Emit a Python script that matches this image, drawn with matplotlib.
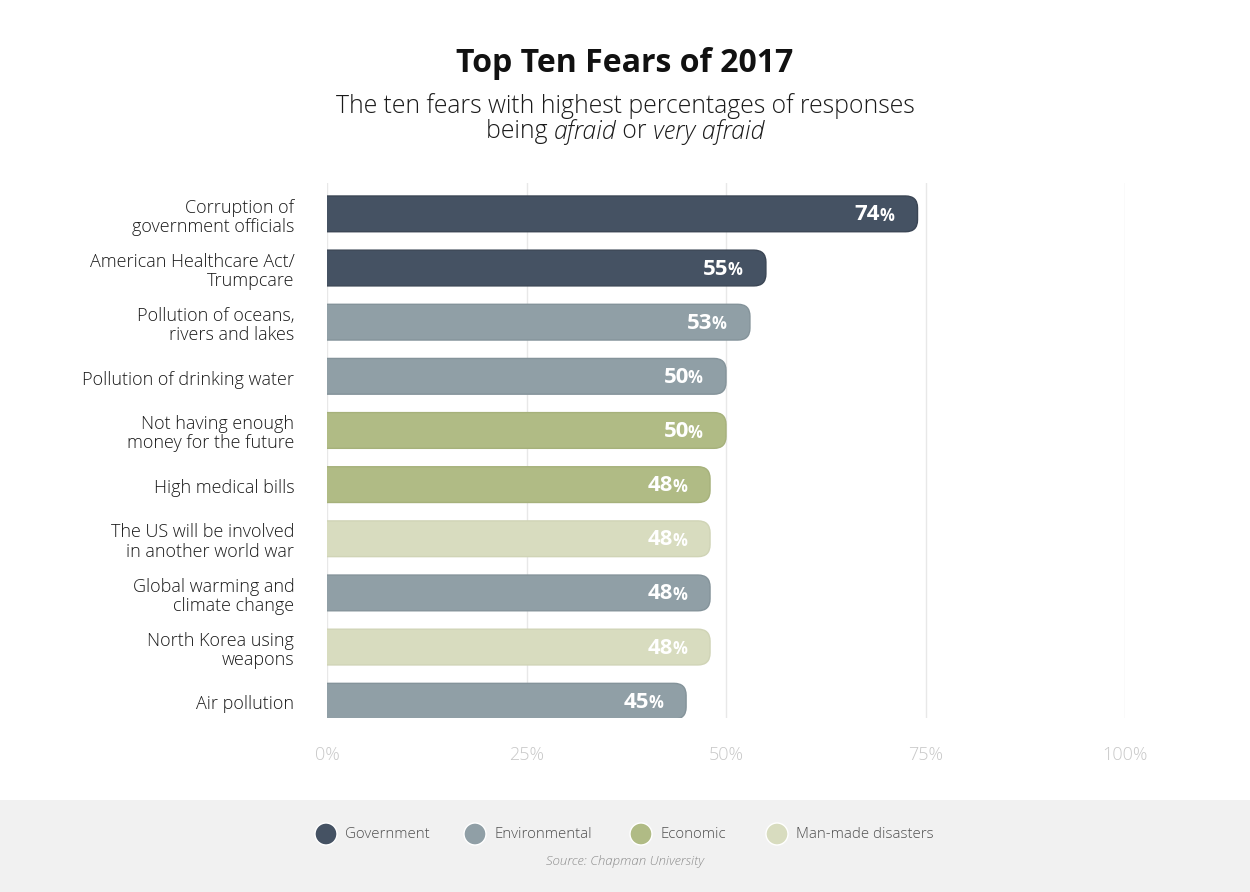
import matplotlib.pyplot as plt
from matplotlib.patches import FancyBboxPatch, Rectangle, Circle

# data
fears = [
    "Corruption of\ngovernment officials",
    "American Healthcare Act/\nTrumpcare",
    "Pollution of oceans,\nrivers and lakes",
    "Pollution of drinking water",
    "Not having enough\nmoney for the future",
    "High medical bills",
    "The US will be involved\nin another world war",
    "Global warming and\nclimate change",
    "North Korea using\nweapons",
    "Air pollution",
]
percent = [74, 55, 53, 50, 50, 48, 48, 48, 48, 45]
group = ["Government", "Government", "Environmental", "Environmental", "Economic",
         "Economic", "Man-made disasters", "Environmental", "Man-made disasters",
         "Environmental"]
groups = ["Government", "Environmental", "Economic", "Man-made disasters"]
colors = {"Government": "#455263", "Environmental": "#909fa6",
          "Economic": "#b0bb85", "Man-made disasters": "#d8dcbf"}
edges = {"Government": "#3a4554", "Environmental": "#84939a",
         "Economic": "#a6b17b", "Man-made disasters": "#d0d4b6"}
ticks = [0, 25, 50, 75, 100]

plt.rcParams['font.family'] = ['Open Sans', 'DejaVu Sans']

fig = plt.figure(figsize=(12.5, 8.92), dpi=100)
W, H = 1250, 892

ax = fig.add_axes([327 / W, 1 - 718 / H, 798 / W, 535 / H])
ax.set_xlim(0, 100)
ax.set_ylim(9.31, -0.57)
for s in ax.spines.values():
    s.set_visible(False)
ax.set_yticks([])
ax.set_xticks(ticks)
ax.set_xticklabels([f"{t}%" for t in ticks], color="#c8c8c8", fontsize=13,
                   fontweight="light")
ax.tick_params(axis="x", length=0, pad=20)
for t in ticks:
    ax.axvline(t, color="#e8e8e8", lw=1, zorder=0)

bar_h = 0.66
rx = 1.5
ry = 0.22
for i, (v, g) in enumerate(zip(percent, group)):
    p = FancyBboxPatch((-10, i - bar_h / 2), v + 10, bar_h,
                       boxstyle=f"round,pad=0,rounding_size={rx}",
                       mutation_aspect=ry / rx,
                       fc=colors[g], ec=edges[g], lw=1, zorder=2)
    ax.add_patch(p)
    ax.text(-4.1, i + 0.06, fears[i], ha="right", va="center",
            fontsize=13, fontweight="light", color="#1a1a1a", linespacing=1.08)

fig.canvas.draw()
r = fig.canvas.get_renderer()
inv = ax.transData.inverted()
for i, v in enumerate(percent):
    pc = ax.text(v - 2.9, i + 0.04, "%", ha="right", va="center", fontsize=12,
                 fontweight="bold", color="white", zorder=3)
    bb = pc.get_window_extent(r)
    x0 = inv.transform((bb.x0, bb.y0))[0]
    ax.text(x0 + 0.1, i + 0.02, str(v), ha="right", va="center", fontsize=16,
            fontweight="bold", color="white", zorder=3)

# titles
fig.text(0.5, 1 - 64 / H, "Top Ten Fears of 2017", ha="center", va="center",
         fontsize=23, fontweight="bold", color="#111111")
fig.text(0.5, 1 - 106 / H, "The ten fears with highest percentages of responses",
         ha="center", va="center", fontsize=17.8, fontweight="light", color="#1a1a1a")

parts = [("being ", "normal"), ("afraid", "italic"), (" or ", "normal"),
         ("very afraid", "italic")]
objs = []
for s, st in parts:
    objs.append(fig.text(0, 1 - 132 / H, s, ha="left", va="center", fontsize=17.8,
                         fontweight="light", style=st, color="#1a1a1a"))
fig.canvas.draw()
widths = [o.get_window_extent(r).width for o in objs]
x = (W - sum(widths)) / 2
for o, w in zip(objs, widths):
    o.set_x(x / W)
    x += w

# footer band
fig.patches.append(Rectangle((0, 0), 1, 92 / H, transform=fig.transFigure,
                             fc="#f1f1f1", ec="none", zorder=0))
leg_x = [326, 475, 641, 777]
for g, lx in zip(groups, leg_x):
    fig.patches.append(Circle((lx, H - 834), 11, transform=None, fc=colors[g],
                              ec="white", lw=1, zorder=1))
    fig.text((lx + 19) / W, 1 - 835 / H, g, ha="left", va="center", fontsize=10.8,
             fontweight="light", color="#505050")
fig.text(0.5, 1 - 862 / H, "Source: Chapman University", ha="center", va="center",
         fontsize=9.5, style="italic", fontweight="light", color="#8c8c8c")

fig.savefig("out.png", dpi=100)
